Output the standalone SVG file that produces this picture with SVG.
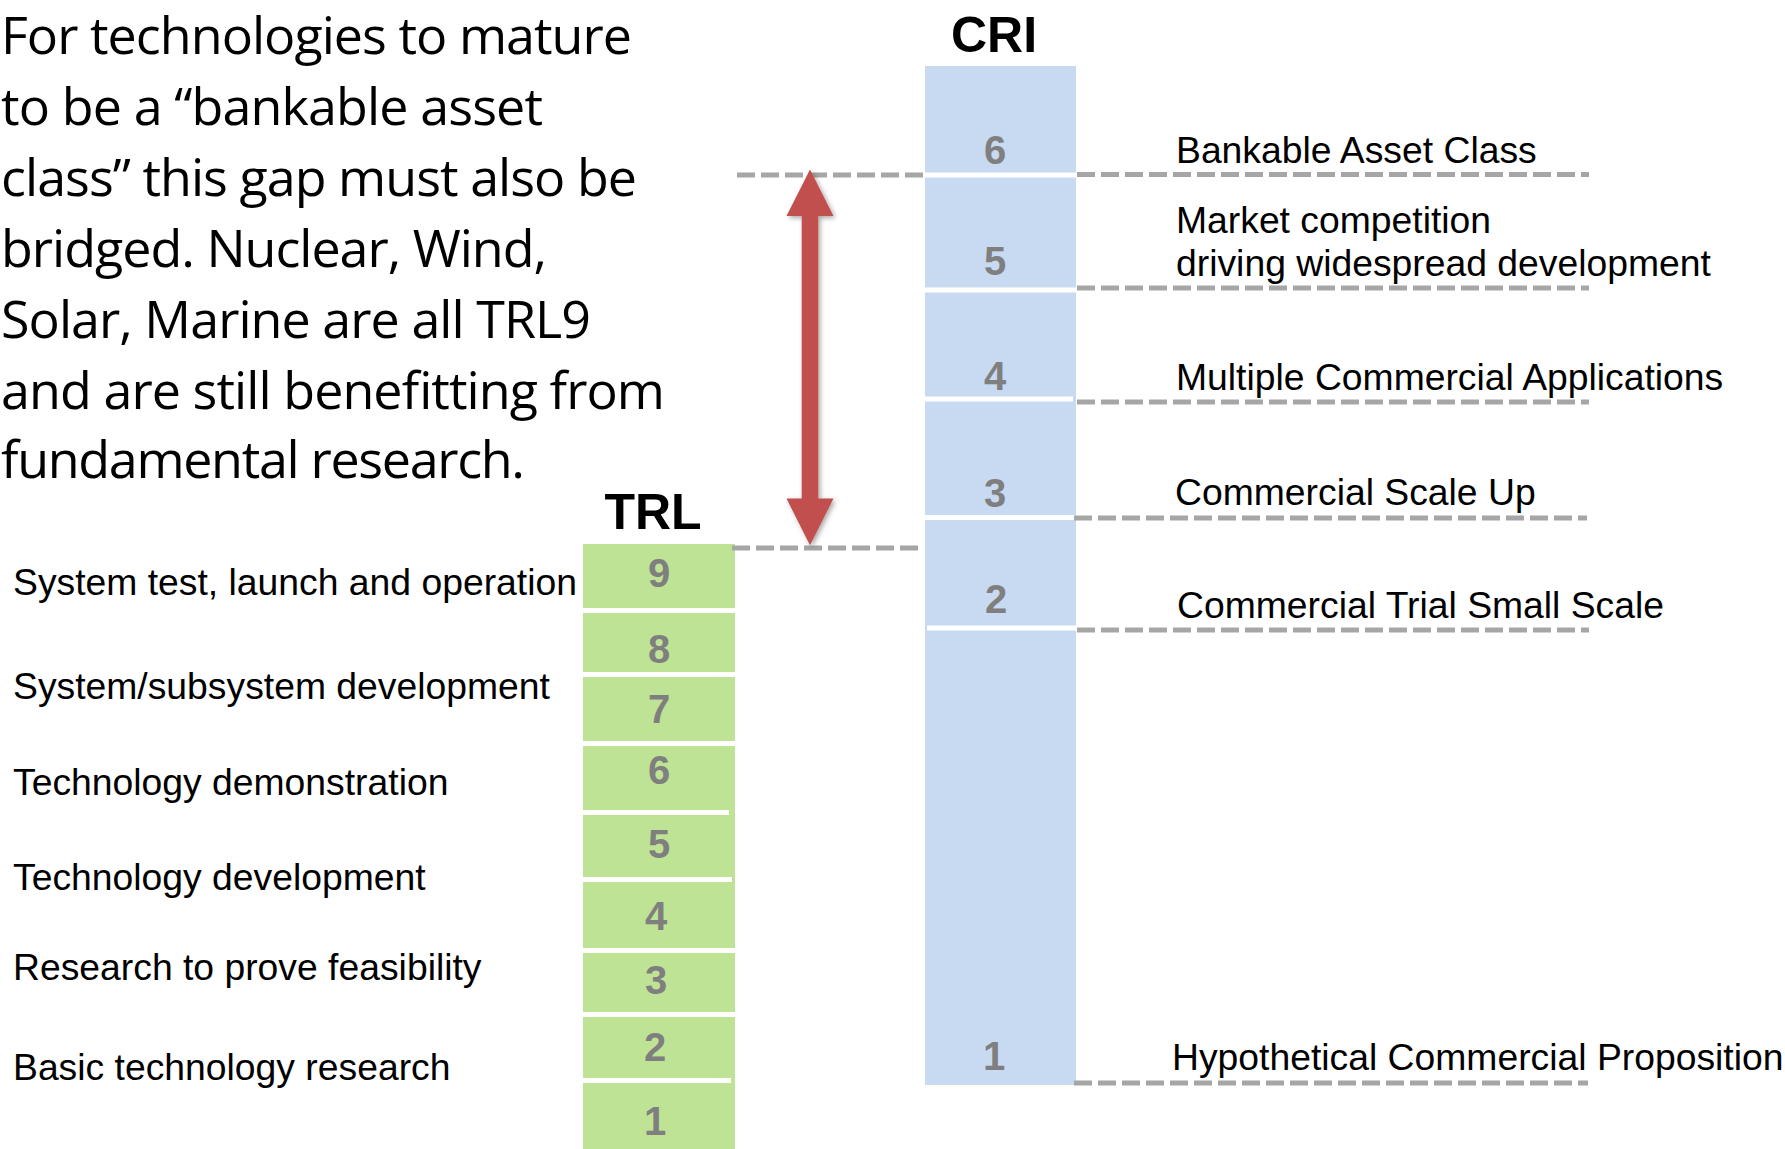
<svg xmlns="http://www.w3.org/2000/svg" width="1785" height="1149" viewBox="0 0 1785 1149">
<style>
.para{font-family:"Open Sans","Liberation Sans",sans-serif;font-size:52px;fill:#000}
.lbl{font-family:"Liberation Sans",Arial,sans-serif;font-size:37.3px;fill:#000}
.title{font-family:"Liberation Sans",Arial,sans-serif;font-size:50px;font-weight:bold;fill:#000;text-anchor:middle}
.num{font-family:"Liberation Sans",Arial,sans-serif;font-size:40px;font-weight:bold;fill:#7f7f7f;text-anchor:middle}
.div{fill:#fff}
.dash{stroke:#a6a6a6;stroke-width:5;stroke-dasharray:18 6;fill:none}
</style>
<defs>
<filter id="shadow" x="-50%" y="-10%" width="200%" height="120%">
<feDropShadow dx="2" dy="2" stdDeviation="2.5" flood-color="#000" flood-opacity="0.35"/>
</filter>
</defs>
<rect width="1785" height="1149" fill="#fff"/>

<g id="paragraph" class="para">
<text x="1" y="54" textLength="631" lengthAdjust="spacing">For technologies to mature</text>
<text x="1" y="125" textLength="542" lengthAdjust="spacing">to be a “bankable asset</text>
<text x="1" y="196" textLength="636" lengthAdjust="spacing">class” this gap must also be</text>
<text x="1" y="267" textLength="546" lengthAdjust="spacing">bridged. Nuclear, Wind,</text>
<text x="1" y="338" textLength="590" lengthAdjust="spacing">Solar, Marine are all TRL9</text>
<text x="1" y="409" textLength="664" lengthAdjust="spacing">and are still benefitting from</text>
<text x="1" y="478" textLength="524" lengthAdjust="spacing">fundamental research.</text>
</g>

<g id="trl">
<text class="title" x="653" y="529">TRL</text>
<rect x="583" y="544" width="152" height="605" fill="#bee395"/>
<rect class="div" x="583" y="608" width="152" height="5"/>
<rect class="div" x="583" y="672" width="152" height="5"/>
<rect class="div" x="583" y="741" width="152" height="5"/>
<rect class="div" x="583" y="810" width="146" height="5"/>
<rect class="div" x="583" y="877" width="149" height="5"/>
<rect class="div" x="583" y="948" width="152" height="5"/>
<rect class="div" x="583" y="1012" width="152" height="5"/>
<rect class="div" x="583" y="1078" width="148" height="5"/>
<text class="num" x="659" y="587">9</text>
<text class="num" x="659" y="663">8</text>
<text class="num" x="659" y="723">7</text>
<text class="num" x="659" y="784">6</text>
<text class="num" x="659" y="858">5</text>
<text class="num" x="656" y="930">4</text>
<text class="num" x="656" y="994">3</text>
<text class="num" x="655" y="1061">2</text>
<text class="num" x="655" y="1135">1</text>
</g>

<g id="trl-labels" class="lbl">
<text x="13" y="595">System test, launch and operation</text>
<text x="13" y="699">System/subsystem development</text>
<text x="13" y="795">Technology demonstration</text>
<text x="13" y="890">Technology development</text>
<text x="13" y="980">Research to prove feasibility</text>
<text x="13" y="1080">Basic technology research</text>
</g>

<g id="cri">
<text class="title" x="994" y="52">CRI</text>
<rect x="925" y="66" width="151" height="1019" fill="#c8daf1"/>
<rect class="div" x="925" y="172.5" width="151" height="5"/>
<rect class="div" x="925" y="287.5" width="151" height="5"/>
<rect class="div" x="925" y="396.5" width="148" height="5"/>
<rect class="div" x="925" y="515" width="151" height="5"/>
<rect class="div" x="927" y="625.5" width="149" height="5"/>
<text class="num" x="995" y="164">6</text>
<text class="num" x="995" y="275">5</text>
<text class="num" x="995" y="390">4</text>
<text class="num" x="995" y="507">3</text>
<text class="num" x="996" y="613">2</text>
<text class="num" x="994" y="1070">1</text>
</g>

<g id="cri-labels" class="lbl">
<text x="1176" y="163">Bankable Asset Class</text>
<text x="1176" y="233">Market competition<tspan x="1176" y="276">driving widespread development</tspan></text>
<text x="1176" y="390">Multiple Commercial Applications</text>
<text x="1175" y="505">Commercial Scale Up</text>
<text x="1177" y="618">Commercial Trial Small Scale</text>
<text x="1172" y="1070">Hypothetical Commercial Proposition</text>
</g>

<g id="connectors">
<line class="dash" x1="737" y1="175" x2="925" y2="175"/>
<line class="dash" x1="732" y1="548" x2="920" y2="548"/>
<line class="dash" x1="1077" y1="174.5" x2="1589" y2="174.5"/>
<line class="dash" x1="1077" y1="288" x2="1589" y2="288"/>
<line class="dash" x1="1077" y1="402" x2="1589" y2="402"/>
<line class="dash" x1="1074" y1="518" x2="1587" y2="518"/>
<line class="dash" x1="1077" y1="630" x2="1589" y2="630"/>
<line class="dash" x1="1074" y1="1083" x2="1588" y2="1083"/>
<path id="gap-arrow" d="M810,169.5 L833.5,216 L818.3,216 L818.3,498.6 L833.5,498.6 L810,545.3 L786.5,498.6 L801.7,498.6 L801.7,216 L786.5,216 Z" fill="#c0504d" filter="url(#shadow)"/>
</g>
</svg>
